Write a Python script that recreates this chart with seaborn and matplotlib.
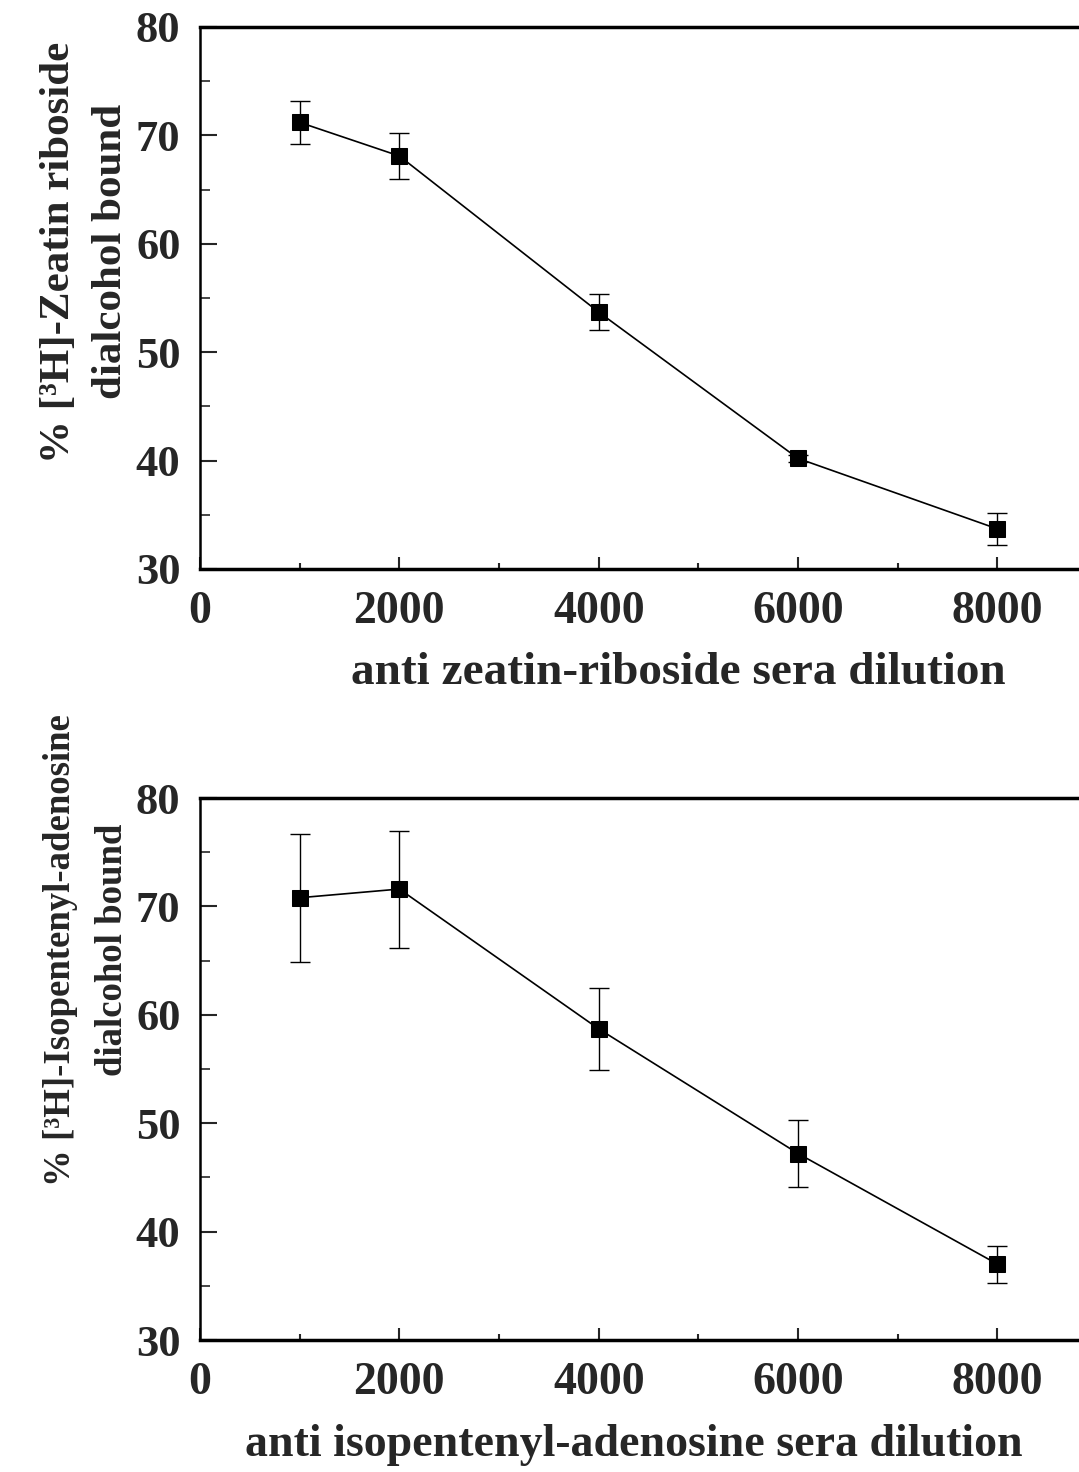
import matplotlib
matplotlib.use("Agg")
import matplotlib.pyplot as plt
import seaborn as sns
import pandas as pd
from matplotlib.ticker import MultipleLocator

sns.set_theme(style="ticks")
plt.rcParams['font.family'] = ['Liberation Serif', 'DejaVu Serif']
plt.rcParams['font.weight'] = 'bold'

dilution = [1000, 2000, 4000, 6000, 8000]
zr_bound = [71.2, 68.1, 53.7, 40.2, 33.7]
zr_err = [2.0, 2.15, 1.65, 0.3, 1.45]
ipa_bound = [70.8, 71.6, 58.7, 47.2, 37.0]
ipa_err = [5.9, 5.4, 3.8, 3.05, 1.7]

ylabels = ["% [³H]-Zeatin riboside\ndialcohol bound",
           "% [³H]-Isopentenyl-adenosine\ndialcohol bound"]
xlabels = ["anti zeatin-riboside sera dilution",
           "anti isopentenyl-adenosine sera dilution"]

W, H = 1079, 1472
fig = plt.figure(figsize=(W / 100, H / 100), dpi=100)

panels = [
    (zr_bound, zr_err, ylabels[0], xlabels[0], 27, 569, 0.585, 31, 1.45, 678, 673, 34),
    (ipa_bound, ipa_err, ylabels[1], xlabels[1], 798, 1340, 0.72, 26.5, 1.6, 634, 1445, 33),
]

for (vals, errs, ylab, xlab, top, bot, ylab_y, ylab_fs, ylab_ls,
     xlab_px, xlab_py, xlab_fs) in panels:
    ax = fig.add_axes([200 / W, 1 - bot / H, 1 - 200 / W + 0.002, (bot - top) / H])
    df = pd.DataFrame({"x": dilution, "y": vals})
    ax.errorbar(dilution, vals, yerr=errs, fmt='none', ecolor='black',
                elinewidth=1.0, capsize=7, capthick=1.0, zorder=2)
    sns.lineplot(data=df, x="x", y="y", ax=ax, color='black', linewidth=1.2,
                 marker='s', markersize=11, markeredgecolor='black',
                 markerfacecolor='black', zorder=3)
    ax.set_xlim(0, 8840)
    ax.set_ylim(30, 80)
    ax.xaxis.set_major_locator(MultipleLocator(2000))
    ax.xaxis.set_minor_locator(MultipleLocator(1000))
    ax.yaxis.set_major_locator(MultipleLocator(10))
    ax.yaxis.set_minor_locator(MultipleLocator(5))
    ax.tick_params(axis='x', which='major', direction='in', length=9, width=1.5,
                   labelsize=33, pad=16)
    ax.tick_params(axis='x', which='minor', direction='in', length=4, width=1.5)
    ax.tick_params(axis='y', which='major', direction='in', length=12, width=1.5,
                   labelsize=32, pad=14)
    ax.tick_params(axis='y', which='minor', direction='in', length=7, width=1.2)
    for lab in ax.get_xticklabels() + ax.get_yticklabels():
        lab.set_fontweight('bold')
    ax.spines['right'].set_visible(False)
    ax.spines['top'].set_linewidth(2.5)
    ax.spines['bottom'].set_linewidth(2.5)
    ax.spines['left'].set_linewidth(1.8)
    for s in ['top', 'bottom', 'left']:
        ax.spines[s].set_color('black')
    ax.set_xlabel("")
    ax.set_ylabel(ylab, fontsize=ylab_fs, fontweight='bold', linespacing=ylab_ls)
    ax.yaxis.set_label_coords(-0.08, ylab_y)
    fig.text(xlab_px / W, 1 - xlab_py / H, xlab, ha='center', va='center',
             fontsize=xlab_fs, fontweight='bold')

fig.savefig("out.png", dpi=100, facecolor='white')
